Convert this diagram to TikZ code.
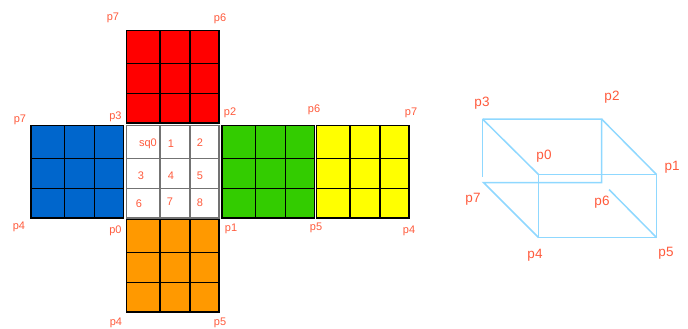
\documentclass[tikz,border=0pt]{standalone}
\usepackage{fontspec}
\setmainfont{Liberation Sans}
\definecolor{labelred}{HTML}{FF5A3C}
\definecolor{edgeblue}{HTML}{8FD8FF}
\definecolor{faceblue}{HTML}{0066CC}
\definecolor{facegreen}{HTML}{33CC00}
\definecolor{faceorange}{HTML}{FF9900}
\definecolor{faceyellow}{HTML}{FFFF00}
\tikzset{
  facegrid/.style={draw=black,line width=1.4pt},
  whitegrid/.style={draw=black!55,line width=1.4pt},
  facelabel/.style={text=labelred,font=\fontsize{11}{13}\selectfont,inner sep=0pt},
  cubelabel/.style={text=labelred,font=\fontsize{13.5}{15}\selectfont,inner sep=0pt},
  cubeedge/.style={draw=edgeblue,line width=1.5pt},
}
\newcommand{\cubeface}[4]{%
  \fill[#3] (#1,#2) rectangle ++(92.5,92.5);
  \draw[#4] (#1,#2) rectangle ++(92.5,92.5);
  \draw[#4] (#1+33.5,#2) -- ++(0,92.5) (#1+63.5,#2) -- ++(0,92.5);
  \draw[#4] (#1,#2+33) -- ++(92.5,0) (#1,#2+63) -- ++(92.5,0);
}
\begin{document}
\begin{tikzpicture}[x=1pt,y=-1pt]
  \useasboundingbox (0,0) rectangle (688,329);
  % unfolded faces
  \cubeface{126.5}{30.5}{red}{facegrid}
  \cubeface{31}{125.5}{faceblue}{facegrid}
  \cubeface{126.5}{125.5}{white}{whitegrid}
  \cubeface{222}{125.5}{facegreen}{facegrid}
  \cubeface{316.5}{125.5}{faceyellow}{facegrid}
  \cubeface{126.5}{219.5}{faceorange}{facegrid}
  % corner labels of the net
  \foreach \name/\x/\y/\txt in {
    redA/113/18/p7, redB/220/19/p6,
    blueA/20/120/p7, blueB/115.5/117/p3, greenA/230/113/p2,
    greenB/314/110/p6, yellowA/411/113/p7,
    blueC/19/227/p4, blueD/115.5/231/p0, greenC/231/229/p1,
    greenD/316/228/p5, yellowB/409/231/p4,
    orangeA/116/323/p4, orangeB/220/323/p5,
    sq0/148/144/sq0, sq1/171/144/1, sq2/200/143/2,
    sq3/141/176/3, sq4/171/176/4, sq5/200/176/5,
    sq6/139/204/6, sq7/170/202/7, sq8/200/203/8}
    \node[facelabel] (\name) at (\x,\y) {\txt};
  % box
  \coordinate (c3) at (482.5,119);
  \coordinate (c3end) at (482.5,177);
  \coordinate (c2) at (601.5,119);
  \coordinate (c0) at (538.5,174.5);
  \coordinate (c1) at (656.5,174.5);
  \coordinate (c4) at (538.5,237.5);
  \coordinate (c5) at (656.5,237.5);
  \coordinate (c7) at (483.5,182.5);
  \coordinate (c6) at (601.5,182.5);
  \coordinate (c6end) at (609,189.5);
  \draw[cubeedge] (c3) -- (c2) -- (c6) -- (c7) -- (c4);
  \draw[cubeedge] (c3) -- (c3end);
  \draw[cubeedge] (c3) -- (c0);
  \draw[cubeedge] (c2) -- (c1);
  \draw[cubeedge] (c6end) -- (c5);
  \draw[cubeedge] (c0) rectangle (c5);
  \foreach \name/\x/\y/\txt in {
    l3/482/103/p3, l2/612/97/p2, l0/544/156/p0, l1/672/167/p1,
    l7/473/199/p7, l6/602/202/p6, l4/535/255/p4, l5/666/253/p5}
    \node[cubelabel] (\name) at (\x,\y) {\txt};
\end{tikzpicture}
\end{document}
